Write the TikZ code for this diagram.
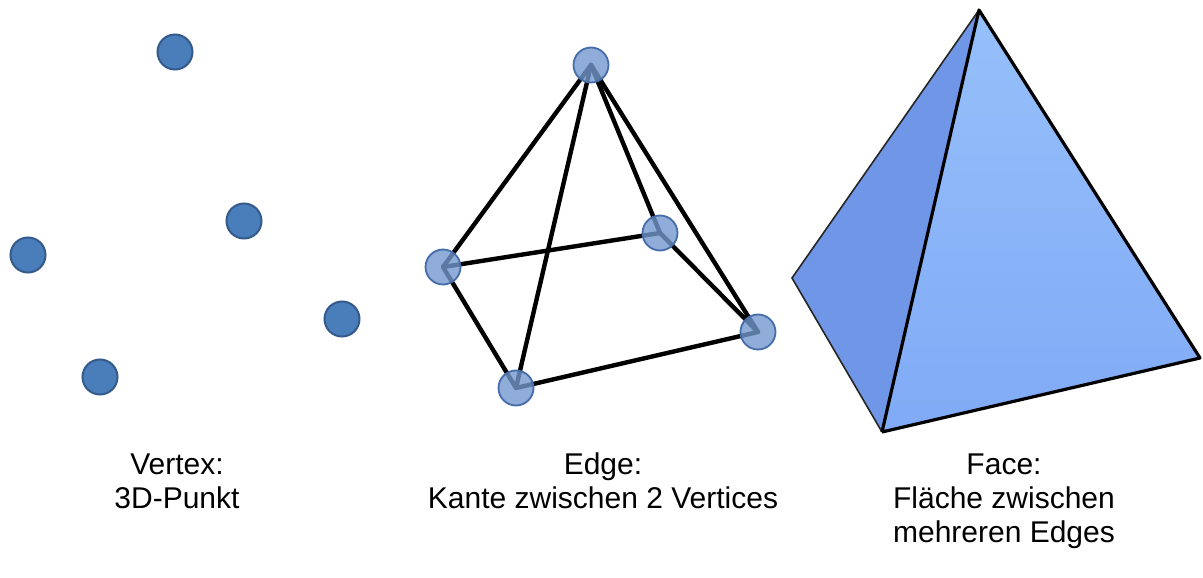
\documentclass[tikz,border=0pt]{standalone}
\usepackage{fontspec}
\setmainfont{Liberation Sans}

\definecolor{dotblue}{RGB}{74,126,187}
\definecolor{dotrim}{RGB}{52,90,140}
\definecolor{cornerblue}{RGB}{115,152,206}
\definecolor{cornerrim}{RGB}{68,108,168}
\definecolor{sideface}{RGB}{112,150,232}
\definecolor{frontlight}{RGB}{150,192,250}
\definecolor{frontdark}{RGB}{128,170,246}

\begin{document}
\begin{tikzpicture}[x=1pt,y=-1pt,
  dot/.style={circle,minimum size=35pt,inner sep=0pt,fill=dotblue,draw=dotrim,line width=2pt},
  corner/.style={circle,minimum size=35pt,inner sep=0pt,fill=cornerblue,fill opacity=0.8,draw=cornerrim,line width=1.8pt},
  wire/.style={line width=4.4pt,line cap=round,line join=round},
  rim/.style={line width=3.2pt,line join=round},
  caption/.style={align=center,anchor=base,font=\fontsize{30}{34}\selectfont}]
\useasboundingbox (0,0) rectangle (1203,578);

% loose points
\node[dot] (v1) at (175,52) {};
\node[dot] (v2) at (244,221) {};
\node[dot] (v3) at (28,255) {};
\node[dot] (v4) at (342,319) {};
\node[dot] (v5) at (100,377) {};
% base of the last line
\node[caption] (vtext) at (177,508) {Vertex:\\3D-Punkt};

% wire frame pyramid
\coordinate (tip) at (591,65);
\coordinate (back) at (660,233);
\coordinate (left) at (443,267);
\coordinate (right) at (758,332);
\coordinate (front) at (516,388);
\draw[wire] (tip) -- (left) -- (front) -- (right) -- (back) -- (left);
\draw[wire] (tip) -- (front);
\draw[wire] (tip) -- (back);
\draw[wire] (tip) -- (right);
\foreach \c in {tip,back,left,right,front}
  \node[corner] (c-\c) at (\c) {};
\node[caption] (etext) at (603,508) {Edge:\\Kante zwischen 2 Vertices};

% solid pyramid
\coordinate (top) at (979,10);
\coordinate (fl) at (792,278);
\coordinate (fb) at (882,432);
\coordinate (fr) at (1200,358);
\fill[sideface] (top) -- (fl) -- (fb) -- cycle;
\shade[top color=frontlight,bottom color=frontdark] (top) -- (fb) -- (fr) -- cycle;
\draw[line width=1.6pt,draw=black!85] (top) -- (fl) -- (fb);
\draw[rim] (fb) -- (top) -- (fr) -- (fb);
\node[caption] (ftext) at (1004,542) {Face:\\Fläche zwischen\\mehreren Edges};

\end{tikzpicture}
\end{document}
